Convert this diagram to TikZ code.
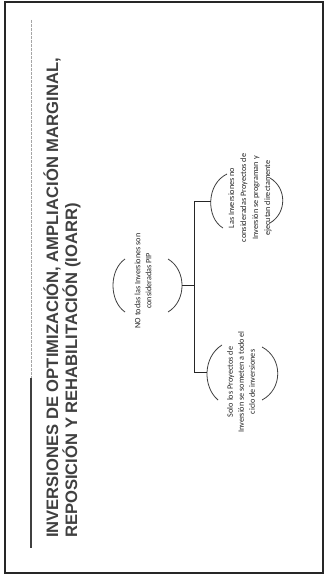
\documentclass[tikz,border=0pt]{standalone}
\usepackage{fontspec}
\setmainfont{Carlito}
\newfontfamily\titlefont{Liberation Sans}
\begin{document}
\begin{tikzpicture}[x=1pt,y=1pt,
  titulo/.style={rotate=90,anchor=base west,inner sep=0pt,text=black!75,font=\titlefont\bfseries\fontsize{16.6}{19}\selectfont},
  caja/.style={rotate=90,align=center,inner sep=0pt,text=black!85,font=\fontsize{8.2}{11}\selectfont},
  arco/.style={black!75,line width=0.8pt},
  conn/.style={black!85,line width=0.8pt}]
\useasboundingbox (0,0) rectangle (326,-578);
\fill[white] (0,0) rectangle (326,-578);
% marco de la diapositiva
\draw[black!85,line width=1.3pt] (5,-2) rectangle (323,-573);
% linea de cabecera
\draw[black!35,line width=1pt,dash pattern=on 3pt off 1pt] (31,-20) -- (31,-378);
\draw[black!75,line width=1.2pt] (31,-378) -- (31,-548);
% titulo
\node[titulo] (tit1) at (58,-538) {INVERSIONES DE OPTIMIZACIÓN, AMPLIACIÓN MARGINAL,};
\node[titulo] (tit2) at (77,-538) {REPOSICIÓN Y REHABILITACIÓN (IOARR)};
% nodos
\node[caja] (todas) at (143,-281) {NO todas las Inversiones son\\consideradas PIP};
\node[caja,font=\fontsize{8.2}{12}\selectfont] (lasInv) at (250,-198) {Las Inversiones no\\consideradas Proyectos de\\Inversión se programan y\\ejecutan directamente};
\node[caja] (soloPy) at (241,-382) {Solo los Proyectos de\\Inversión se someten a todo el\\ciclo de inversiones};
% arcos
\draw[arco] (125,-259) .. controls (109,-270) and (109,-301) .. (125,-312);
\draw[arco] (168,-259) .. controls (186.7,-270) and (186.7,-301) .. (168,-312);
\draw[arco] (227,-174) .. controls (206,-184) and (206,-218) .. (223,-228);
\draw[arco] (270,-178) .. controls (287,-188) and (287,-213) .. (270,-223);
\draw[arco] (222,-345) .. controls (202.7,-357) and (202.7,-387) .. (218,-400);
\draw[arco] (262,-347) .. controls (283,-358) and (283,-389) .. (262,-400);
\coordinate (todasR) at (182,-285.5);
\coordinate (lasInvL) at (210.75,-201);
\coordinate (soloPyL) at (207,-372.1);
\coordinate (bus) at (194,-285.5);
% conectores
\draw[conn] (todasR) -- (bus);
\draw[conn] (lasInvL) -- (lasInvL -| bus) -- (soloPyL -| bus) -- (soloPyL);
\end{tikzpicture}
\end{document}
